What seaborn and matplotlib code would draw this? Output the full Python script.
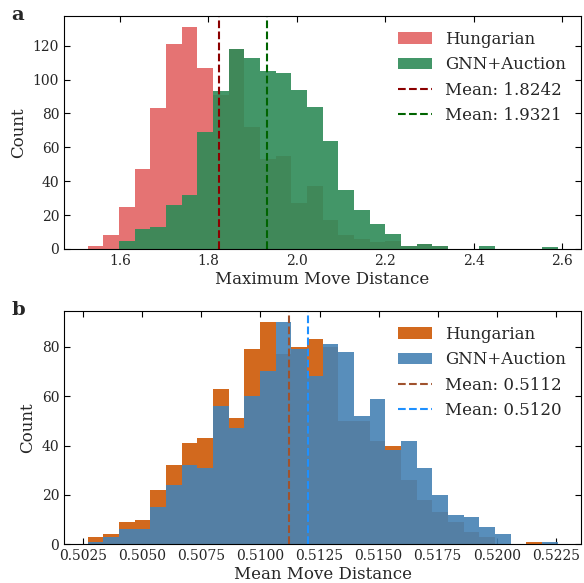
import numpy as np
import pandas as pd
import matplotlib
matplotlib.use("Agg")
import matplotlib.pyplot as plt
import seaborn as sns

# panel a: maximum move distance, 30 shared bins
a_range = (1.5265, 2.5896)
a_hungarian = [2, 8, 25, 47, 83, 121, 131, 107, 91, 118, 72, 53, 55, 27, 37,
               17, 8, 6, 4, 5, 2, 3, 2, 0, 0, 0, 0, 0, 0, 0]
a_gnn = [0, 0, 5, 12, 13, 26, 32, 69, 93, 118, 113, 105, 104, 94, 84,
         64, 35, 23, 15, 9, 2, 3, 2, 0, 0, 2, 0, 0, 0, 1]
a_means = [1.8242, 1.9321]

# panel b: mean move distance
b_range = (0.50268, 0.52257)
b_hungarian = [3, 4, 9, 10, 22, 32, 41, 43, 63, 51, 79, 90, 77, 80, 83,
               80, 50, 50, 42, 40, 26, 18, 13, 9, 5, 3, 0, 0, 1, 0]
b_gnn = [1, 3, 6, 6, 15, 24, 32, 31, 56, 47, 60, 70, 90, 79, 68,
         81, 78, 52, 59, 38, 42, 31, 20, 12, 11, 7, 4, 0, 0, 1]
b_means = [0.5112, 0.5120]

a_xticks = [1.6, 1.8, 2.0, 2.2, 2.4, 2.6]
b_xticks = [0.5025, 0.5050, 0.5075, 0.5100, 0.5125, 0.5150, 0.5175, 0.5200, 0.5225]

sns.set_style("ticks", {"xtick.direction": "in", "ytick.direction": "in",
                        "axes.edgecolor": "black"})
plt.rcParams["font.family"] = ["DejaVu Serif"]
plt.rcParams["xtick.top"] = True
plt.rcParams["ytick.right"] = True

fig = plt.figure(figsize=(5.84, 5.83), dpi=100)
ax1 = fig.add_axes([0.1096, 0.5729, 0.8853, 0.3997])
ax2 = fig.add_axes([0.1096, 0.0664, 0.8853, 0.4002])


def draw_panel(ax, rng, hung, gnn, means, c_h, c_g, c_mh, c_mg, xlabel, xticks):
    edges = np.linspace(rng[0], rng[1], len(hung) + 1)
    df = pd.DataFrame({"x": (edges[:-1] + edges[1:]) / 2, "hung": hung, "gnn": gnn})
    sns.histplot(data=df, x="x", weights="hung", bins=list(edges), color=c_h,
                 alpha=1.0, linewidth=0, label="Hungarian", ax=ax)
    sns.histplot(data=df, x="x", weights="gnn", bins=list(edges), color=c_g,
                 alpha=0.9, linewidth=0, label="GNN+Auction", ax=ax)
    ax.axvline(means[0], color=c_mh, ls="--", lw=1.5, label=f"Mean: {means[0]:.4f}")
    ax.axvline(means[1], color=c_mg, ls="--", lw=1.5, label=f"Mean: {means[1]:.4f}")
    ax.set_xticks(xticks)
    ax.set_xlabel(xlabel, fontsize=12, labelpad=2)
    ax.set_ylabel("Count", fontsize=12)
    ax.tick_params(labelsize=10, length=4, color="black")
    handles, labels = ax.get_legend_handles_labels()
    order = [labels.index(s) for s in ["Hungarian", "GNN+Auction"]]
    order += [i for i in range(len(labels)) if i not in order]
    ax.legend([handles[i] for i in order], [labels[i] for i in order],
              loc="upper right", frameon=False, fontsize=12)


draw_panel(ax1, a_range, a_hungarian, a_gnn, a_means, "#E57373", "seagreen",
           "darkred", "darkgreen", "Maximum Move Distance", a_xticks)
ax1.set_yticks([0, 20, 40, 60, 80, 100, 120])
draw_panel(ax2, b_range, b_hungarian, b_gnn, b_means, "chocolate", "steelblue",
           "sienna", "dodgerblue", "Mean Move Distance", b_xticks)
ax2.set_yticks([0, 20, 40, 60, 80])

fig.text(0.02, 0.974, "a", fontsize=14, fontweight="bold", va="center")
fig.text(0.02, 0.468, "b", fontsize=14, fontweight="bold", va="center")

fig.savefig("out.png", dpi=100)
